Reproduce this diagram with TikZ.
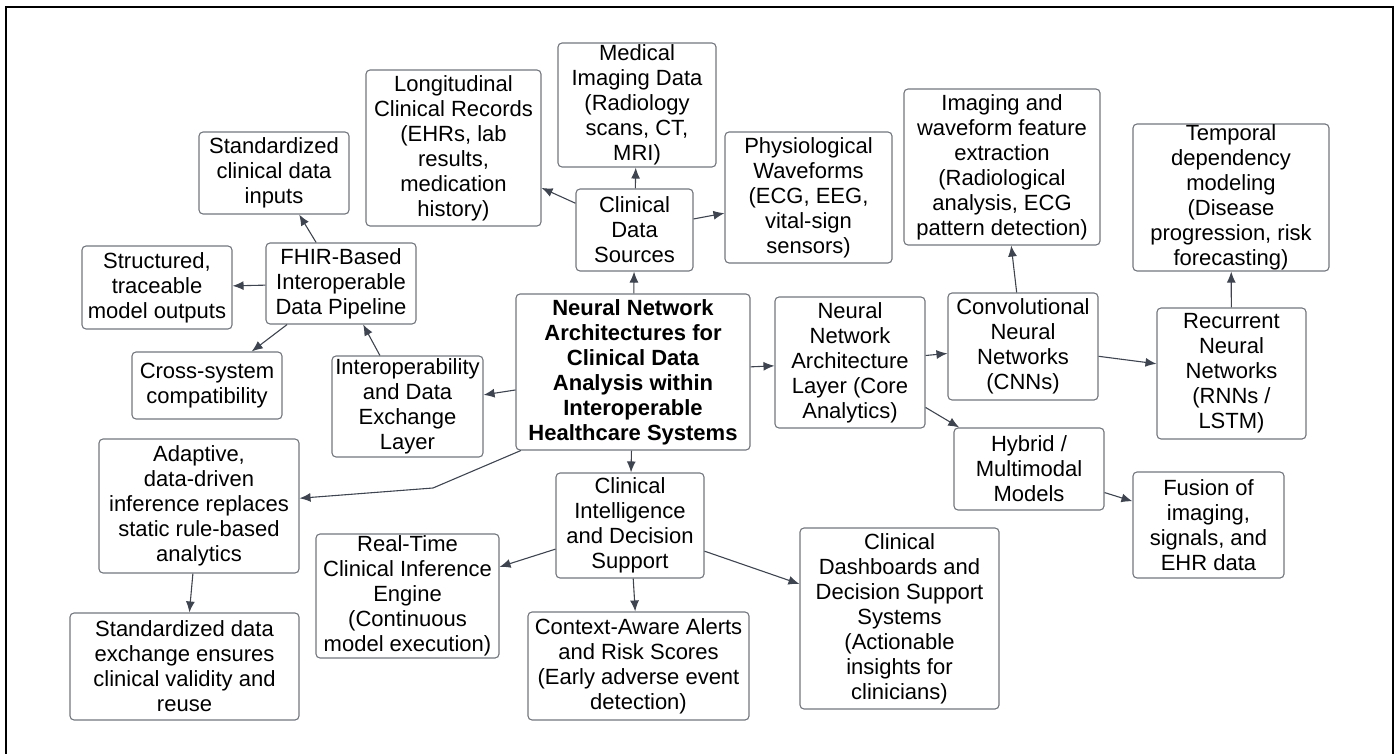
\documentclass[tikz,border=0pt]{standalone}
\usepackage{fontspec}
\setmainfont{Liberation Sans}
\usepackage{tikz}
\usetikzlibrary{arrows.meta}

\definecolor{boxgray}{HTML}{72767D}
\definecolor{arrgray}{HTML}{3E4550}

\begin{document}
\begin{tikzpicture}[
x=1pt, y=-1pt,
box/.style={
		draw=boxgray,
		line width=1.1pt,
		rounded corners=4pt,
		inner sep=0pt,
		align=center,
		font=\fontsize{22}{25}\selectfont,
		},
arr/.style={->, >={Latex[length=11pt, width=9pt]}, draw=arrgray, line width=1.1pt}
]

\useasboundingbox (0,0) rectangle (1397,754);
\draw[line width=2.4pt] (6,754) -- (6,7) -- (1393,7) -- (1393,754);

% centre
\node[box, minimum width=234, minimum height=156, font=\fontsize{22}{25}\selectfont\bfseries] (core) at (633,372)
  {Neural Network\\Architectures for\\Clinical Data\\Analysis within\\Interoperable\\Healthcare Systems};

% data sources
\node[box, minimum width=117, minimum height=82] (cds) at (634.5,230) {Clinical\\Data\\Sources};
\node[box, minimum width=175, minimum height=156] (longi) at (453.5,148)
  {Longitudinal\\Clinical Records\\(EHRs, lab\\results,\\medication\\history)};
\node[box, minimum width=158, minimum height=124] (medimg) at (637,105)
  {Medical\\Imaging Data\\(Radiology\\scans, CT,\\MRI)};
\node[box, minimum width=167, minimum height=131] (physio) at (808.5,197.5)
  {Physiological\\Waveforms\\(ECG, EEG,\\vital-sign\\sensors)};

% interoperability
\node[box, minimum width=151, minimum height=101] (interop) at (407.5,406.5)
  {Interoperability\\and Data\\Exchange\\Layer};
\node[box, minimum width=150, minimum height=81] (fhir) at (341,283.5)
  {FHIR-Based\\Interoperable\\Data Pipeline};
\node[box, minimum width=150, minimum height=82] (stdin) at (274,173)
  {Standardized\\clinical data\\inputs};
\node[box, minimum width=150, minimum height=83] (struct) at (157,287.5)
  {Structured,\\traceable\\model outputs};
\node[box, minimum width=150, minimum height=67] (cross) at (207,385.5)
  {Cross-system\\compatibility};
\node[box, minimum width=200, minimum height=134] (adapt) at (199,506)
  {Adaptive,\\data-driven\\inference replaces\\static rule-based\\analytics};
\node[box, minimum width=229, minimum height=107] (exch) at (184.5,666.5)
  {Standardized data\\exchange ensures\\clinical validity and\\reuse};
\coordinate (kink) at (433,488);

% analytics layer
\node[box, minimum width=150, minimum height=131] (nnlayer) at (850,362.5)
  {Neural\\Network\\Architecture\\Layer (Core\\Analytics)};
\node[box, minimum width=150, minimum height=107] (cnn) at (1023,346.5)
  {Convolutional\\Neural\\Networks\\(CNNs)};
\node[box, minimum width=196, minimum height=156] (imgfeat) at (1002,167)
  {Imaging and\\waveform feature\\extraction\\(Radiological\\analysis, ECG\\pattern detection)};
\node[box, minimum width=149, minimum height=131] (rnn) at (1231.5,373.5)
  {Recurrent\\Neural\\Networks\\(RNNs /\\LSTM)};
\node[box, minimum width=196, minimum height=147] (temporal) at (1231,197.5)
  {Temporal\\dependency\\modeling\\(Disease\\progression, risk\\forecasting)};
\node[box, minimum width=150, minimum height=82] (hybrid) at (1029,469)
  {Hybrid /\\Multimodal\\Models};
\node[box, minimum width=151, minimum height=106] (fusion) at (1208.5,525)
  {Fusion of\\imaging,\\signals, and\\EHR data};

% decision support
\node[box, minimum width=148, minimum height=105] (cids) at (630,525.5)
  {Clinical\\Intelligence\\and Decision\\Support};
\node[box, minimum width=183, minimum height=124] (realtime) at (407.5,596)
  {Real-Time\\Clinical Inference\\Engine\\(Continuous\\model execution)};
\node[box, minimum width=221, minimum height=108] (alerts) at (638.5,666)
  {Context-Aware Alerts\\and Risk Scores\\(Early adverse event\\detection)};
\node[box, minimum width=199, minimum height=181] (dash) at (899.5,618.5)
  {Clinical\\Dashboards and\\Decision Support\\Systems\\(Actionable\\insights for\\clinicians)};

\foreach \a/\b in {core/cds, cds/medimg, cds/longi, cds/physio,
                   core/interop, interop/fhir, fhir/stdin, fhir/struct, fhir/cross,
                   adapt/exch,
                   core/nnlayer, nnlayer/cnn, nnlayer/hybrid, cnn/imgfeat, cnn/rnn,
                   rnn/temporal, hybrid/fusion,
                   core/cids, cids/realtime, cids/alerts, cids/dash}
{
  \draw[arr] (\a) -- (\b);
}

\draw[arr] (core.215) -- (kink) -- (adapt);

\end{tikzpicture}
\end{document}
